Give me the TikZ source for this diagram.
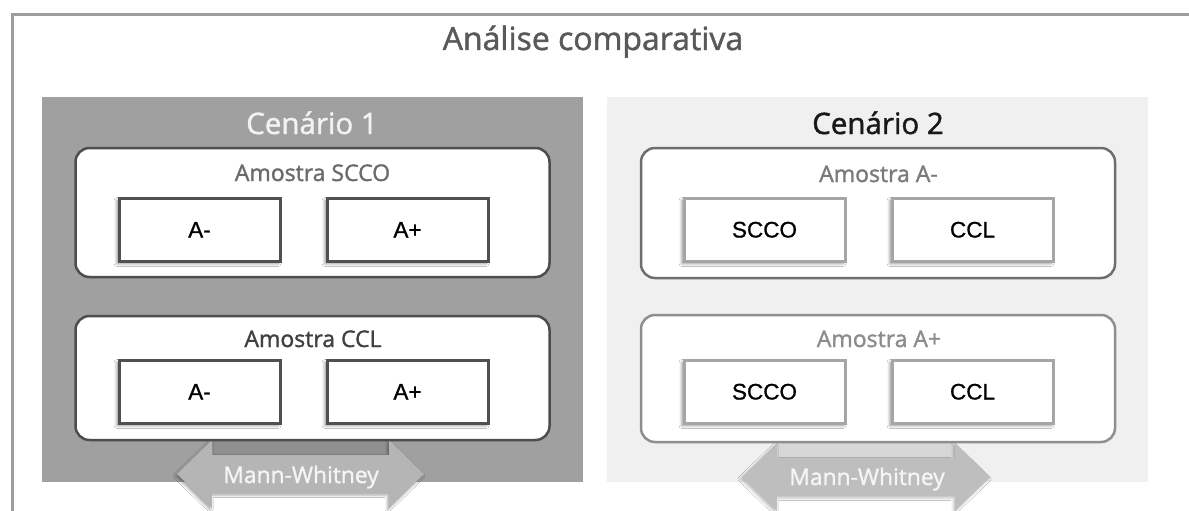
\documentclass[tikz,border=0pt]{standalone}
\usepackage{fontspec}
\setmainfont{Open Sans}[FakeBold=1.4]
\newfontfamily\boxfont{Liberation Sans}[FakeBold=1.0]
\usetikzlibrary{shadows.blur}

\definecolor{frameline}{HTML}{9E9E9E}
\definecolor{panelA}{HTML}{A0A0A0}
\definecolor{panelB}{HTML}{F0F0F0}
\definecolor{titlegray}{HTML}{595959}
\definecolor{edgeA}{HTML}{4D4D4D}
\definecolor{edgeBtop}{HTML}{6E6E6E}
\definecolor{edgeBbot}{HTML}{8E8E8E}
\definecolor{cellA}{HTML}{505050}
\definecolor{cellB}{HTML}{A5A5A5}
\definecolor{arrowA}{HTML}{B5B5B5}
\definecolor{arrowB}{HTML}{BEBEBE}

\tikzset{
  panel/.style={inner sep=0pt, minimum width=541pt, minimum height=385pt},
  samplebox/.style={rectangle, rounded corners=14pt, fill=white, line width=2.5pt,
    inner sep=0pt, minimum width=474pt},
  cell/.style={rectangle, fill=white, line width=3pt, inner sep=0pt,
    minimum width=161pt, minimum height=63pt, text=black,
    font=\boxfont\fontsize{22.5}{27}\selectfont, text height=16pt, text depth=0pt,
    blur shadow={shadow xshift=-2pt, shadow yshift=-2.5pt, shadow blur radius=3pt, shadow opacity=45}},
  heading/.style={anchor=base, inner sep=0pt, font=\fontsize{29.5}{35}\selectfont},
  sampletitle/.style={anchor=base, inner sep=0pt, font=\fontsize{23}{28}\selectfont},
  testname/.style={anchor=base, inner sep=0pt, text=white!96!black, font=\fontsize{22.8}{28}\selectfont},
  band/.style={fill=black, opacity=0.1},
}

\begin{document}
\begin{tikzpicture}[x=1pt, y=-1pt]
\useasboundingbox (0,0) rectangle (1189,511);
\fill[white] (0,0) rectangle (1189,511);

% outer frame (top and left edges)
\draw[frameline, line width=3pt] (1189,15) -- (12,15) -- (12,511);

% title
\node[anchor=base, inner sep=0pt, text=titlegray, font=\fontsize{32}{38}\selectfont] (title) at (593,50) {Análise comparativa};

% scenario panels
\node[panel, fill=panelA] (p1) at (312.5,289.5) {};
\node[panel, fill=panelB] (p2) at (877.5,289.5) {};

\node[heading, text=white!95!black] (h1) at (312,134) {Cenário 1};
\node[heading, text=black!90] (h2) at (878,134) {Cenário 2};

% shaded strips above the arrow shafts
\fill[band] (212,441) rectangle (389,455);
\fill[band] (777,443) rectangle (955,458);

% Mann-Whitney double arrows
\fill[arrowA, blur shadow={shadow xshift=-1.5pt, shadow yshift=-2pt, shadow blur radius=2.5pt, shadow opacity=35}]
  (177,474) -- (212,440) -- (212,455) -- (389,455) -- (389,440) -- (424,474)
  -- (389,508) -- (389,493) -- (212,493) -- (212,508) -- cycle;
\fill[arrowB, blur shadow={shadow xshift=-1.5pt, shadow yshift=-2pt, shadow blur radius=2.5pt, shadow opacity=25}]
  (742,477) -- (777,443) -- (777,458) -- (955,458) -- (955,443) -- (990,477)
  -- (955,511) -- (955,496) -- (777,496) -- (777,511) -- cycle;
\node[testname] (mw1) at (301,483) {Mann-Whitney};
\node[testname] (mw2) at (867,485) {Mann-Whitney};

% scenario 1: samples split by group
\node[samplebox, draw=edgeA, minimum height=129pt] (s1) at (312.5,212.5) {};
\node[samplebox, draw=edgeA, minimum height=124pt] (s2) at (312.5,378) {};
\node[sampletitle, text=black!58] (s1t) at (312.5,181) {Amostra SCCO};
\node[sampletitle, text=black!75] (s2t) at (313,347) {Amostra CCL};
\node[cell, draw=cellA] (s1a) at (199.5,229.5) {A-};
\node[cell, draw=cellA] (s1b) at (407.5,229.5) {A+};
\node[cell, draw=cellA] (s2a) at (199.5,391.5) {A-};
\node[cell, draw=cellA] (s2b) at (407.5,391.5) {A+};

% scenario 2: groups split by sample
\node[samplebox, draw=edgeBtop, minimum height=130pt] (g1) at (878,213) {};
\node[samplebox, draw=edgeBbot, minimum height=127pt] (g2) at (878,378.5) {};
\node[sampletitle, text=black!52] (g1t) at (878.5,182) {Amostra A-};
\node[sampletitle, text=black!45] (g2t) at (879,347) {Amostra A+};
\node[cell, draw=cellB] (g1a) at (764.5,229.5) {SCCO};
\node[cell, draw=cellB] (g1b) at (972.5,229.5) {CCL};
\node[cell, draw=cellB] (g2a) at (764.5,391.5) {SCCO};
\node[cell, draw=cellB] (g2b) at (972.5,391.5) {CCL};
\end{tikzpicture}
\end{document}
